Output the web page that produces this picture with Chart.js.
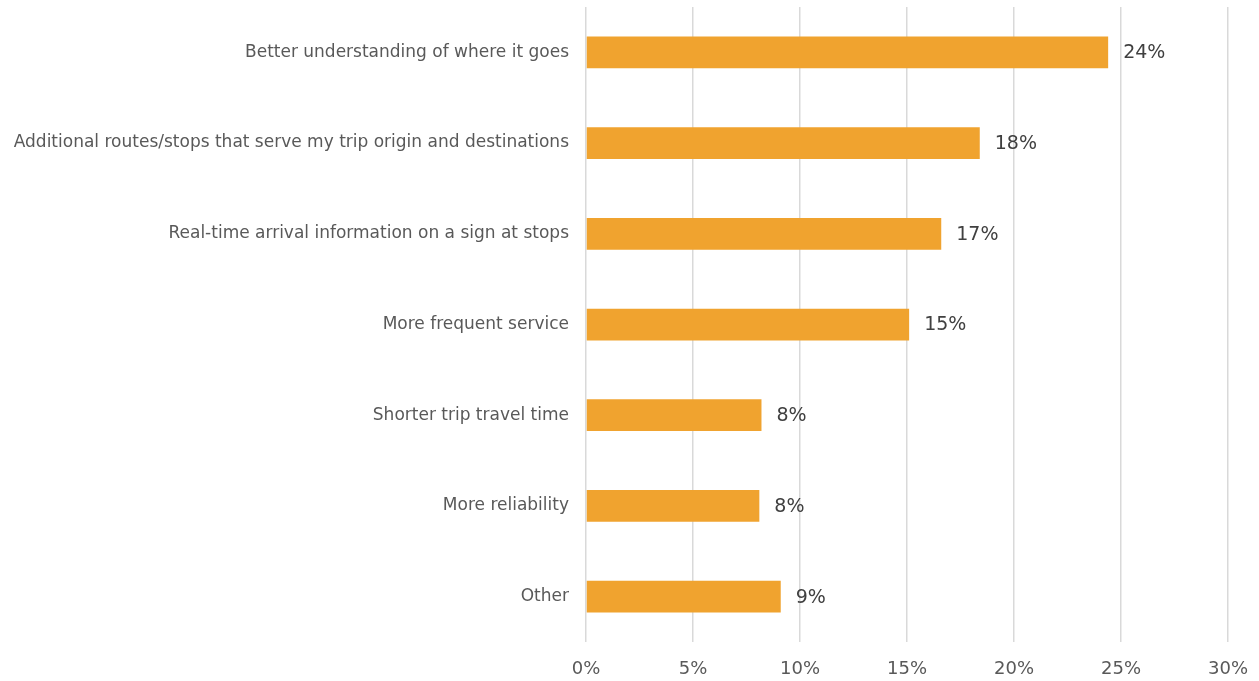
<!DOCTYPE html>
<html>
<head>
<meta charset="utf-8">
<script src="https://cdn.jsdelivr.net/npm/chart.js@4/dist/chart.umd.min.js"></script>
<style>
  html, body { margin: 0; padding: 0; background: #fff; }
  #wrap { width: 1259px; height: 681px; }
</style>
</head>
<body>
<div id="wrap"><canvas id="chart" width="1259" height="681"></canvas></div>
<script>
const categories = [
    'Better understanding of where it goes',
    'Additional routes/stops that serve my trip origin and destinations',
    'Real-time arrival information on a sign at stops',
    'More frequent service',
    'Shorter trip travel time',
    'More reliability',
    'Other'
];
const shares = [24.4, 18.4, 16.6, 15.1, 8.2, 8.1, 9.1];
const shareLabels = ['24%', '18%', '17%', '15%', '8%', '8%', '9%'];
const xTicks = [0, 5, 10, 15, 20, 25, 30];

const fontName = '"DejaVu Sans", "Open Sans", sans-serif';

// etiquetas de valor al final de cada barra
const etiquetas = {
    id: 'etiquetas',
    afterDatasetsDraw(chart) {
        const ctx = chart.ctx;
        const meta = chart.getDatasetMeta(0);
        ctx.save();
        ctx.font = '19px ' + fontName;
        ctx.fillStyle = '#404040';
        ctx.textAlign = 'left';
        ctx.textBaseline = 'middle';
        meta.data.forEach((bar, i) => {
            ctx.fillText(shareLabels[i], bar.x + 15, bar.y + 1);
        });
        ctx.restore();
    }
};

const ctx = document.getElementById('chart').getContext('2d');
const myChart = new Chart(ctx, {
    type: 'bar',
    data: {
        labels: categories,
        datasets: [{
            data: shares,
            backgroundColor: '#F0A32F',
            borderWidth: 0,
            categoryPercentage: 1,
            barPercentage: 0.35
        }]
    },
    options: {
        indexAxis: 'y',
        responsive: false,
        animation: false,
        layout: { padding: { top: 7, right: 31, bottom: 0, left: 0 } },
        plugins: {
            legend: { display: false },
            tooltip: { enabled: false }
        },
        scales: {
            x: {
                min: 0,
                max: 30,
                afterBuildTicks: scale => {
                    scale.ticks = xTicks.map(v => ({ value: v }));
                },
                afterFit: scale => {
                    scale.paddingLeft = 0;
                    scale.paddingRight = 0;
                    scale.height = 39;
                },
                grid: { color: '#d9d9d9', lineWidth: 1.5, drawTicks: false },
                border: { display: false },
                ticks: {
                    padding: 17,
                    maxRotation: 0,
                    minRotation: 0,
                    color: '#595959',
                    font: { family: fontName, size: 18 },
                    callback: v => v + '%'
                }
            },
            y: {
                afterFit: scale => {
                    scale.width = 586;
                    scale.paddingTop = 0;
                    scale.paddingBottom = 0;
                },
                grid: { display: false, drawTicks: false },
                border: { display: false },
                ticks: {
                    padding: 17,
                    color: '#595959',
                    font: { family: fontName, size: 17 }
                }
            }
        }
    },
    plugins: [etiquetas]
});
</script>
</body>
</html>
